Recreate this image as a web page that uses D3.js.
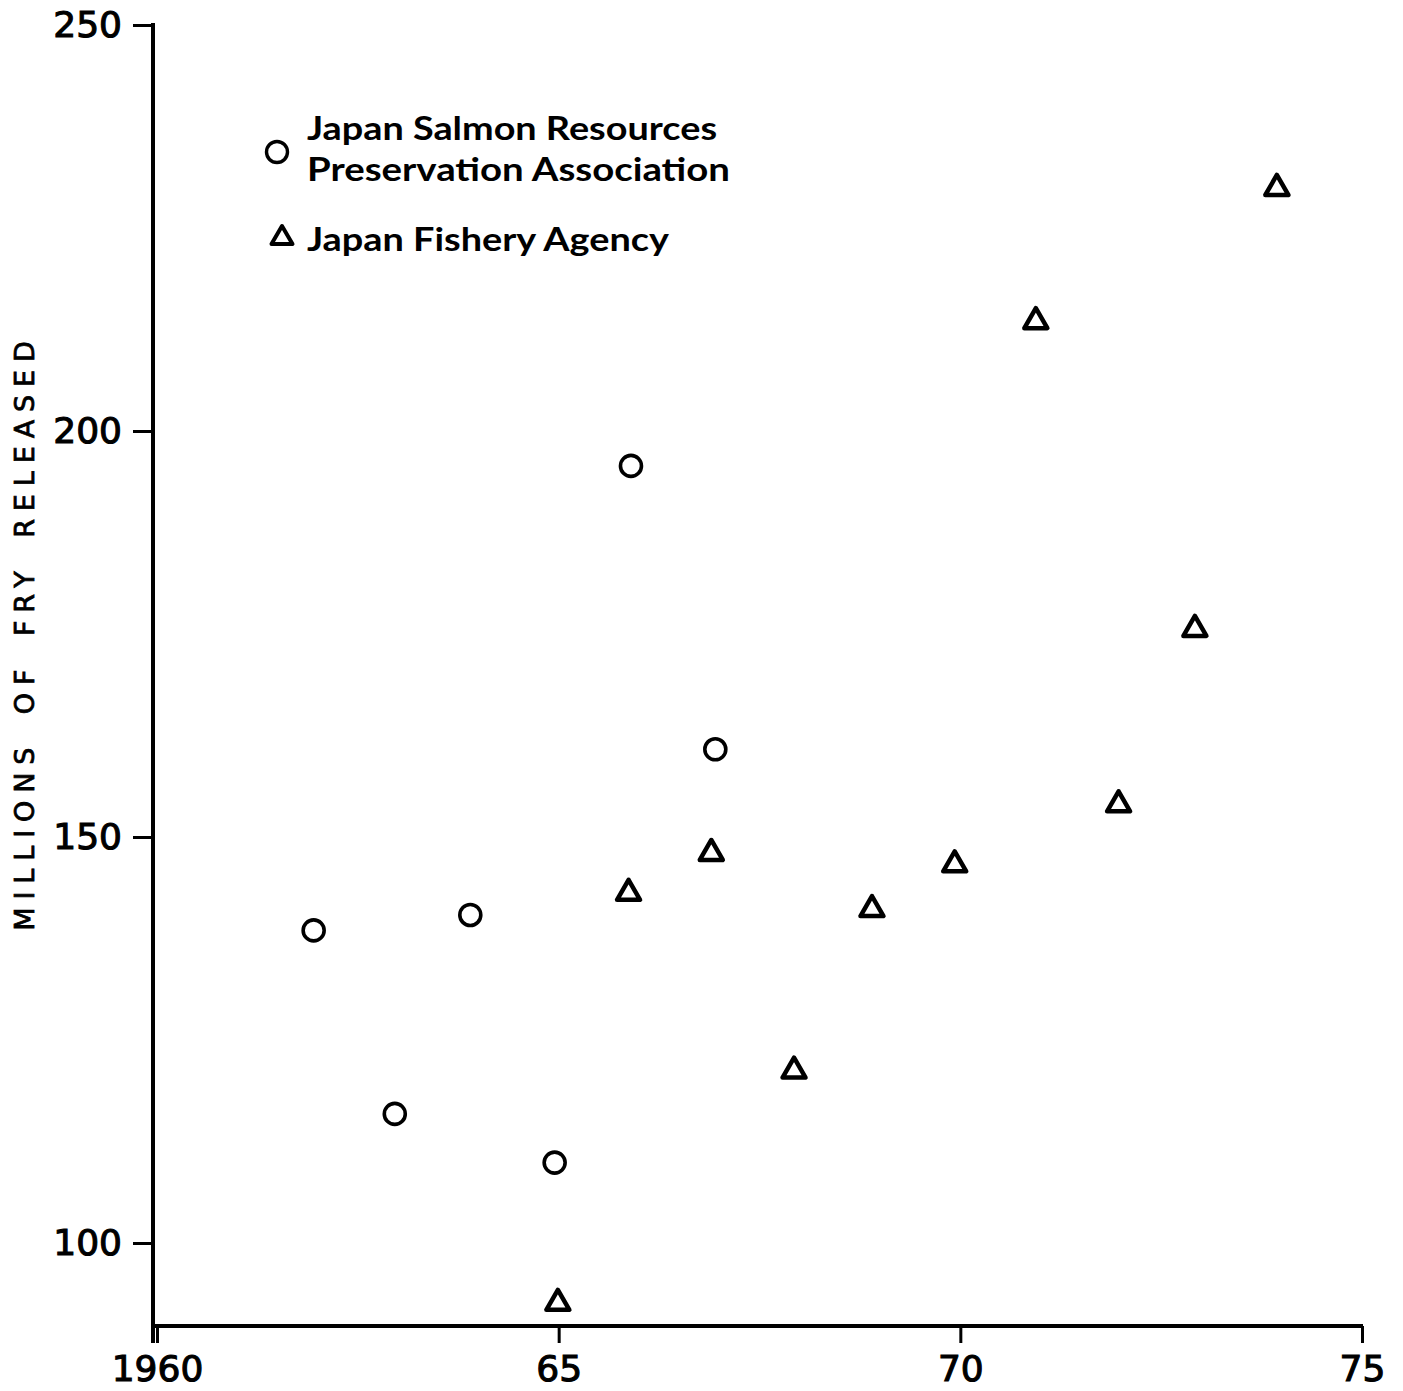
<!DOCTYPE html>
<html lang="en">
  <head>
    <meta charset="UTF-8">
    <script src="https://d3js.org/d3.v7.min.js"></script>
    <style>
      body { margin: 0; background: #fff; }
      text { fill: #000; }
    </style>
  </head>
  <body>
    <div id="chart"></div>
    <script>
      // data
      const salmonYears = [1961.95, 1962.96, 1963.9, 1964.95, 1965.9, 1966.95];
      const salmonValues = [138.5, 115.9, 140.4, 109.9, 195.7, 160.8];

      const agencyYears = [1964.99, 1965.87, 1966.9, 1967.93, 1968.9, 1969.93, 1970.94, 1971.97, 1972.92, 1973.94];
      const agencyValues = [93.0, 143.5, 148.4, 121.6, 141.5, 147.0, 213.9, 154.4, 176.0, 230.3];

      const xTicks = [1960, 1965, 1970, 1975];
      const xTickLabels = ["1960", "65", "70", "75"];
      const yTicks = [100, 150, 200, 250];

      const legendItems = [
        { shape: "circle", lines: ["Japan Salmon Resources", "Preservation Association"] },
        { shape: "triangle", lines: ["Japan Fishery Agency"] }
      ];
      const yTitle = "MILLIONS OF FRY RELEASED";

      const W = 1403, H = 1391;
      const svg = d3.select("#chart").append("svg")
        .attr("width", W)
        .attr("height", H);

      const x = d3.scaleLinear().domain([1960, 1975]).range([157, 1362]);
      const y = d3.scaleLinear().domain([100, 250]).range([1243, 25]);
      const axisY = 1326, axisX = 153;

      const numFont = "'DejaVu Sans', sans-serif";
      const txtFont = "Lato, sans-serif";

      // y axis
      const gy = svg.append("g")
        .attr("transform", `translate(${axisX},0)`)
        .call(d3.axisLeft(y).tickValues(yTicks).tickSize(20).tickPadding(11).tickSizeOuter(0));
      gy.select(".domain").remove();
      gy.selectAll(".tick line").attr("stroke", "#000").attr("stroke-width", 3);
      gy.selectAll(".tick text")
        .style("font-family", numFont)
        .style("font-size", "36px")
        .attr("stroke", "#000")
        .attr("stroke-width", 1.1)
        .attr("fill", "#000");
      svg.append("line")
        .attr("x1", axisX).attr("x2", axisX)
        .attr("y1", y(250) - 2).attr("y2", axisY + 17)
        .attr("stroke", "#000").attr("stroke-width", 4);

      // x axis
      const gx = svg.append("g")
        .attr("transform", `translate(0,${axisY})`)
        .call(d3.axisBottom(x).tickValues(xTicks).tickSize(17).tickPadding(12).tickSizeOuter(0)
          .tickFormat((d, i) => xTickLabels[i]));
      gx.select(".domain").remove();
      gx.selectAll(".tick line").attr("stroke", "#000").attr("stroke-width", 3);
      gx.selectAll(".tick text")
        .style("font-family", numFont)
        .style("font-size", "36px")
        .attr("stroke", "#000")
        .attr("stroke-width", 1.1)
        .attr("fill", "#000");
      svg.append("line")
        .attr("x1", axisX).attr("x2", x(1975) + 1)
        .attr("y1", axisY).attr("y2", axisY)
        .attr("stroke", "#000").attr("stroke-width", 4);

      // y title
      svg.append("text")
        .attr("transform", `translate(34,632) rotate(-90)`)
        .attr("text-anchor", "middle")
        .style("font-family", numFont)
        .style("font-size", "27px")
        .style("letter-spacing", "7.9px")
        .style("word-spacing", "9px")
        .attr("stroke", "#000")
        .attr("stroke-width", 0.8)
        .text(yTitle);

      // markers
      const triPath = "M0,-10 L11.5,10 L-11.5,10 Z";

      svg.append("g").selectAll("circle")
        .data(salmonYears.map((yr, i) => [yr, salmonValues[i]]))
        .join("circle")
        .attr("cx", d => x(d[0]))
        .attr("cy", d => y(d[1]))
        .attr("r", 10.5)
        .attr("fill", "none")
        .attr("stroke", "#000")
        .attr("stroke-width", 3.6);

      svg.append("g").selectAll("path")
        .data(agencyYears.map((yr, i) => [yr, agencyValues[i]]))
        .join("path")
        .attr("d", triPath)
        .attr("transform", d => `translate(${x(d[0])},${y(d[1])})`)
        .attr("fill", "none")
        .attr("stroke", "#000")
        .attr("stroke-width", 4.5)
        .attr("stroke-linejoin", "round");

      // legend
      const legend = svg.append("g");
      legend.append("circle")
        .attr("cx", 277).attr("cy", 152).attr("r", 10.5)
        .attr("fill", "none").attr("stroke", "#000").attr("stroke-width", 3.4);
      legend.append("path")
        .attr("d", "M0,-9 L10.5,9 L-10.5,9 Z")
        .attr("transform", "translate(282,235)")
        .attr("fill", "none").attr("stroke", "#000").attr("stroke-width", 4)
        .attr("stroke-linejoin", "round");

      const legendRows = [
        { text: legendItems[0].lines[0], base: 140, len: 410 },
        { text: legendItems[0].lines[1], base: 181, len: 423 },
        { text: legendItems[1].lines[0], base: 251, len: 362 }
      ];
      legend.selectAll("text.leg")
        .data(legendRows)
        .join("text")
        .attr("class", "leg")
        .attr("x", 307)
        .attr("y", d => d.base)
        .attr("textLength", d => d.len)
        .attr("lengthAdjust", "spacingAndGlyphs")
        .style("font-family", txtFont)
        .style("font-size", "33px")
        .style("font-weight", "bold")
        .text(d => d.text);
    </script>
  </body>
</html>
